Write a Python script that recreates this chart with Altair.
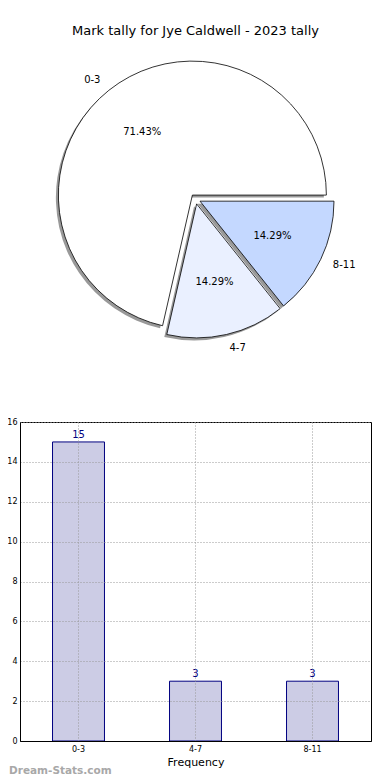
import math
import altair as alt
import pandas as pd

# ---- data ----
categories = ["0-3", "4-7", "8-11"]
counts = [15, 3, 3]
pie_title = "Mark tally for Jye Caldwell - 2023 tally"
x_title = "Frequency"
y_title = "Scores in Wins"
y_ticks = [0, 2, 4, 6, 8, 10, 12, 14, 16]
watermark = "Dream-Stats.com"

slice_colors = ["#FFFFFF", "#EAF0FF", "#C4D8FF"]

FONT = "DejaVu Sans"
R = 134
EXPLODE = 5
SHADOW = (-2.5, 2.5)

n = len(categories)
total = sum(counts)
df = pd.DataFrame({"cat": categories, "count": counts, "idx": list(range(n))})

theta_scale = alt.Scale(domain=[0, total], range=[math.pi / 2, math.pi / 2 + 2 * math.pi])
color_scale = alt.Scale(domain=categories, range=slice_colors)

base = (
    alt.Chart(df)
    .transform_window(cum="sum(count)", sort=[alt.SortField("idx", order="descending")], frame=[None, 0])
    .transform_joinaggregate(total="sum(count)")
    .transform_calculate(
        start="datum.cum - datum.count",
        end="datum.cum",
        mid="datum.cum - datum.count / 2",
        pct="format(datum.count / datum.total * 100, '.2f') + '%'",
    )
)

# explode offsets derived from the slice mid angles
starts = {}
acc = 0
for i in reversed(range(n)):
    starts[i] = acc
    acc += counts[i]
offs = {}
for i in range(n):
    ang = math.pi / 2 + 2 * math.pi * (starts[i] + counts[i] / 2) / total
    offs[i] = (EXPLODE * math.sin(ang), -EXPLODE * math.cos(ang), math.sin(ang) >= 0)

shadow_layers, arc_layers, pct_layers, lab_layers = [], [], [], []
for i in range(n):
    dx, dy, right_side = offs[i]
    sub = base.transform_filter(alt.datum.idx == i)
    shadow_layers.append(
        sub.mark_arc(radius=R, fill="#555555", opacity=0.6,
                     xOffset=dx + SHADOW[0], yOffset=dy + SHADOW[1]).encode(
            theta=alt.Theta("start:Q", scale=theta_scale, stack=None),
            theta2="end:Q",
        )
    )
    arc_layers.append(
        sub.mark_arc(radius=R, stroke="black", strokeWidth=0.8, xOffset=dx, yOffset=dy).encode(
            theta=alt.Theta("start:Q", scale=theta_scale, stack=None),
            theta2="end:Q",
            fill=alt.Fill("cat:N", scale=color_scale, legend=None),
        )
    )
    pct_layers.append(
        sub.mark_text(radius=R * 0.6, fontSize=10, font=FONT, color="black",
                      align="center", baseline="middle", xOffset=dx, yOffset=dy).encode(
            theta=alt.Theta("mid:Q", scale=theta_scale, stack=None),
            text="pct:N",
        )
    )
    lab_layers.append(
        sub.mark_text(radius=R * 1.1, fontSize=10, font=FONT, color="black",
                      align="left" if right_side else "right", baseline="middle",
                      xOffset=dx, yOffset=dy).encode(
            theta=alt.Theta("mid:Q", scale=theta_scale, stack=None),
            text="cat:N",
        )
    )

title_layer = alt.Chart(pd.DataFrame({"t": [pie_title]})).mark_text(
    fontSize=13, font=FONT, color="black", align="center", baseline="middle"
).encode(text="t:N", x=alt.value(175.5), y=alt.value(22))

pie = alt.layer(*shadow_layers, *arc_layers, *pct_layers, *lab_layers, title_layer).properties(
    width=351, height=380, view=alt.ViewBackground(stroke="transparent")
)

# ---- bar chart ----
x_enc = alt.X(
    "cat:N", sort=categories,
    scale=alt.Scale(paddingInner=0.556, paddingOuter=0.278),
    axis=alt.Axis(title=x_title, labelAngle=0, labelFontSize=8, labelColor="black",
                  titleFontSize=11, titleFontWeight="normal", titleColor="black",
                  ticks=False, labelPadding=4, titlePadding=3,
                  grid=True, gridDash=[1, 2], gridColor="#999999", bandPosition=0.5,
                  domainColor="black", zindex=1),
)
y_enc = alt.Y(
    "count:Q", scale=alt.Scale(domain=[0, 16], nice=False),
    axis=alt.Axis(values=y_ticks, tickCount=len(y_ticks), labelOverlap=False,
                  title=y_title, labelFontSize=8, labelColor="black",
                  ticks=False, labelPadding=3, titleFontSize=11, titleFontWeight="normal",
                  titleColor="black", titleAngle=270, titleX=-15, titleY=159.5,
                  titleBaseline="bottom", titleAlign="center",
                  grid=True, gridDash=[1, 2], gridColor="#999999",
                  domainColor="black", zindex=1),
)

bars = alt.Chart(df).mark_bar(fill="#CCCCE5", stroke="#000080", strokeWidth=1).encode(x=x_enc, y=y_enc)
vals = alt.Chart(df).mark_text(dy=-2, baseline="bottom", color="#000080", fontSize=10, font=FONT).encode(
    x=x_enc, y=y_enc, text="count:Q",
)
wm = alt.Chart(pd.DataFrame({"t": [watermark]})).mark_text(
    align="left", baseline="middle", fontSize=10.5, fontWeight="bold", color="#a8a8a8", font=FONT
).encode(text="t:N", x=alt.value(-11), y=alt.value(349))

bar = alt.layer(bars, vals, wm).properties(
    width=351, height=319, view=alt.ViewBackground(stroke="black", strokeWidth=1)
)

chart = (
    alt.vconcat(pie, bar, spacing=33, bounds="flush")
    .properties(padding={"left": -15, "top": 0, "right": 0, "bottom": 0})
    .configure(font=FONT)
)

chart.save("out.html", embed_options={"renderer": "svg", "actions": False})
